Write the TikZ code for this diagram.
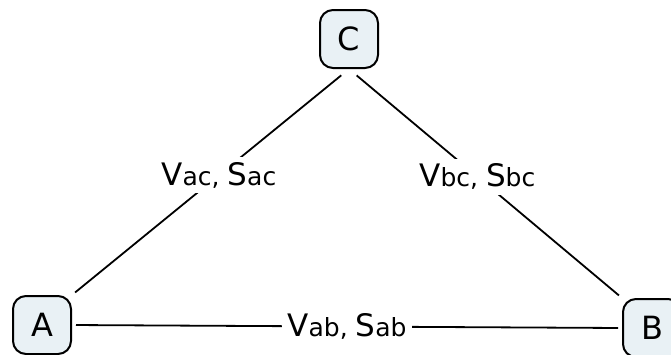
\documentclass[tikz,border=0pt]{standalone}
\usepackage{fontspec}
\setmainfont{DejaVu Sans}
\definecolor{bb}{RGB}{233, 241, 245}
\def\boxsize{58pt}
\newcommand{\sitenode}[3]{\node[site] (#3) at (#1,#2) {#3};}
\newcommand{\vs}[1]{{\fontsize{31}{33}\selectfont V}#1, {\fontsize{31}{33}\selectfont S}#1}

\begin{document}
\begin{tikzpicture}[x=1pt,y=-1pt,
	site/.style={draw,rectangle,rounded corners=13pt,line width=2pt,fill=bb,minimum size=\boxsize,inner sep=0pt,font=\fontsize{32}{34}\selectfont},
	link/.style={line width=1.8pt},
	lbl/.style={fill=white,inner sep=5pt,font=\fontsize{25}{27}\selectfont}]
	\useasboundingbox (0,0) rectangle (671,354);

	\sitenode{349}{39}{C}
	\sitenode{42}{325}{A}
	\sitenode{652}{328}{B}

	\draw[link,shorten <=4pt,shorten >=10pt] (A.north east) -- node[lbl,pos=0.53] {\vs{ac}} (C.south);
	\draw[link,shorten <=4pt,shorten >=10pt] (B.north west) -- node[lbl,pos=0.53] {\vs{bc}} (C.south);
	\draw[link,shorten <=4pt,shorten >=4pt] (A.east) -- node[lbl] {\vs{ab}} (B.west);
\end{tikzpicture}
\end{document}
